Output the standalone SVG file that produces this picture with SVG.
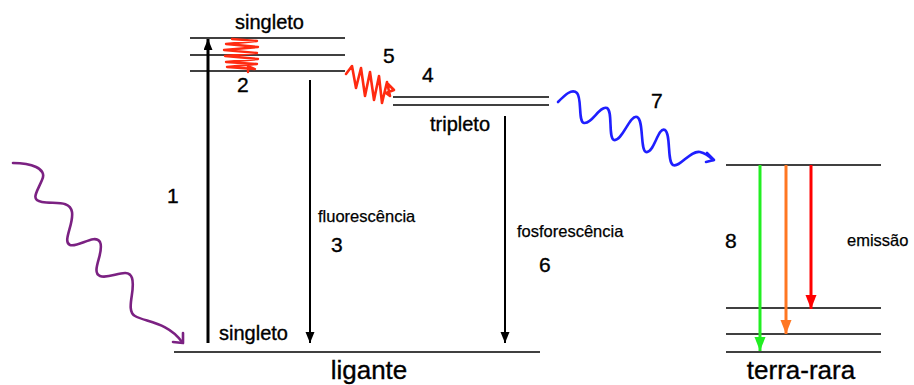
<svg xmlns="http://www.w3.org/2000/svg" width="914" height="385" viewBox="0 0 914 385">
<style>
text{font-family:"Liberation Sans",Arial,sans-serif;fill:#000;stroke:#000;stroke-width:0.35}
.lvl{stroke:#000;stroke-width:1.6;fill:none}
.big{font-size:26px}
.lab{font-size:20px}
.num{font-size:21px}
.sm{font-size:16.5px;stroke-width:0.25}
.blk{stroke:#000;fill:none}
.wave{fill:none;stroke-linecap:round;stroke-linejoin:round}
</style>
<defs>
<marker id="ahB" markerUnits="userSpaceOnUse" markerWidth="12" markerHeight="10" refX="11" refY="4.5" orient="auto">
<path d="M0,0 L11,4.5 L0,9 z" fill="#000"/>
</marker>
<marker id="ahG" markerUnits="userSpaceOnUse" markerWidth="15" markerHeight="12" refX="14" refY="5.5" orient="auto">
<path d="M0,0 L14,5.5 L0,11 z" fill="#22ee22"/>
</marker>
<marker id="ahO" markerUnits="userSpaceOnUse" markerWidth="15" markerHeight="12" refX="14" refY="5.5" orient="auto">
<path d="M0,0 L14,5.5 L0,11 z" fill="#ff7722"/>
</marker>
<marker id="ahR" markerUnits="userSpaceOnUse" markerWidth="15" markerHeight="12" refX="14" refY="5.5" orient="auto">
<path d="M0,0 L14,5.5 L0,11 z" fill="#ff0000"/>
</marker>
</defs>

<g id="ligante">
<line class="lvl" x1="174" y1="352" x2="540" y2="352" stroke-width="2"/>
<text class="big" x="369" y="379" text-anchor="middle">ligante</text>
<text class="lab" x="219" y="340">singleto</text>
</g>

<g id="singleto-excitado">
<line class="lvl" x1="190" y1="38" x2="345" y2="38"/>
<line class="lvl" x1="190" y1="55" x2="345" y2="55"/>
<line class="lvl" x1="190" y1="71" x2="345" y2="71"/>
<text class="lab" x="235" y="29">singleto</text>
<text class="num" x="237" y="92">2</text>
</g>

<g id="tripleto">
<line class="lvl" x1="393" y1="97" x2="549" y2="97"/>
<line class="lvl" x1="393" y1="105" x2="549" y2="105"/>
<text class="lab" x="430" y="131">tripleto</text>
<text class="num" x="422" y="82">4</text>
</g>

<g id="terra-rara">
<line class="lvl" x1="726" y1="165" x2="881" y2="165"/>
<line class="lvl" x1="726" y1="308" x2="881" y2="308"/>
<line class="lvl" x1="726" y1="334" x2="881" y2="334"/>
<line class="lvl" x1="726" y1="352" x2="881" y2="352"/>
<text class="big" x="801" y="379" text-anchor="middle">terra-rara</text>
</g>

<g id="labels">
<text class="num" x="167" y="203">1</text>
<text class="num" x="383" y="63">5</text>
<text class="sm" x="318" y="222">fluorescência</text>
<text class="num" x="331" y="252">3</text>
<text class="sm" x="517" y="237">fosforescência</text>
<text class="num" x="539" y="272">6</text>
<text class="num" x="651" y="108">7</text>
<text class="num" x="725" y="248">8</text>
<text class="sm" x="847" y="246">emissão</text>
</g>

<g id="connectors">
<line class="blk" x1="208" y1="343" x2="208" y2="39" stroke-width="3" marker-end="url(#ahB)"/>
<line class="blk" x1="310" y1="80" x2="310" y2="343" stroke-width="2" marker-end="url(#ahB)"/>
<line class="blk" x1="505" y1="116" x2="505" y2="343" stroke-width="2" marker-end="url(#ahB)"/>
<line x1="760" y1="165" x2="760" y2="351" stroke="#22ee22" stroke-width="3" marker-end="url(#ahG)"/>
<line x1="786" y1="165" x2="786" y2="334" stroke="#ff7722" stroke-width="3" marker-end="url(#ahO)"/>
<line x1="811" y1="165" x2="811" y2="309" stroke="#ff0000" stroke-width="3" marker-end="url(#ahR)"/>

<path class="wave" stroke="#7b2182" stroke-width="2.6" d="M13,163 C30,163 48,168 42,180 C37,192 30,200 42,202 C55,204 70,200 72,212 C74,224 62,242 70,245 C78,248 95,233 100,242 C105,252 90,272 100,276 C110,280 128,266 132,278 C136,290 125,310 135,316 C145,322 168,322 182,342"/>
<polyline class="wave" stroke="#7b2182" stroke-width="2.6" points="173,342 183,343 183,333"/>

<path class="wave" stroke="#1f1fff" stroke-width="2.6" d="M558,102 C565,95 572,88 577,93 C582,98 578,122 584,123 C592,124 600,105 607,108 C613,111 608,138 614,140 C622,142 630,114 637,117 C644,120 640,150 646,152 C654,154 658,126 665,130 C671,134 667,162 673,165 C680,168 690,150 700,152 C705,153 710,157 713,160"/>
<polyline class="wave" stroke="#1f1fff" stroke-width="2.6" points="707,153 714,160 706,162"/>

<polyline class="wave" stroke="#ff2a10" stroke-width="2.4" points="232,39 257,41 226,44 258,47 224,50 257,53 225,56 258,59 226,62 257,64 227,67 255,69 248,66 248,72"/>
<path class="wave" stroke="#ff2a10" stroke-width="2.6" d="M346,74 L352,66 L356,88 L361,68 L365,96 L370,72 L374,100 L379,76 L382,103 L387,82 L390,96 L386,93 L394,90 L388,84"/>
</g>
</svg>
